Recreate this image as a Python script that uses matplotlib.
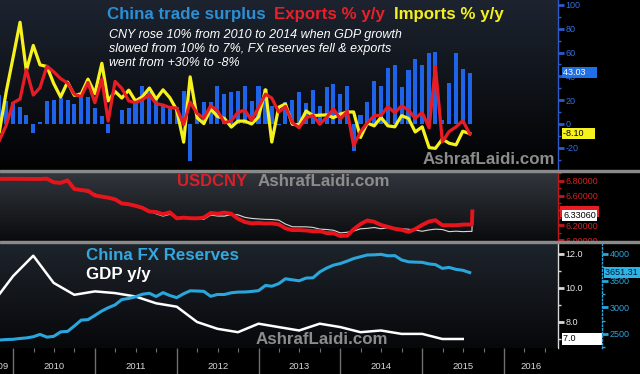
import numpy as np
import pandas as pd
import matplotlib
matplotlib.use("Agg")
import matplotlib.pyplot as plt
from matplotlib import transforms
from matplotlib.colors import to_rgb
from matplotlib.patches import Rectangle
from matplotlib.ticker import MultipleLocator

plt.rcParams['font.family'] = ['Liberation Sans', 'DejaVu Sans']

# ---------------- data ----------------
trade_months = pd.period_range('2009-10', '2015-07', freq='M')
# China trade balance, USD bn
trade_surplus = [24.0, 19.1, 18.4,
                 14.2, 7.6, -7.2, 1.7, 19.5, 20.0, 22.0, 20.0, 16.9, 25.0, 22.9, 13.1,
                 6.5, -7.3, 0.1, 11.4, 13.1, 20.0, 31.5, 27.0, 21.5, 17.0, 15.5, 14.0,
                 27.3, -31.5, 5.4, 18.4, 18.7, 31.7, 25.2, 26.7, 27.7, 32.0, 19.6, 31.6,
                 29.2, 15.3, -0.9, 18.2, 20.4, 27.1, 17.8, 28.5, 15.2, 31.1, 33.8, 25.6,
                 31.9, -23.0, 7.7, 18.5, 35.9, 31.6, 47.3, 49.8, 31.0, 45.4, 54.5, 49.6,
                 60.0, 60.6, 3.1, 34.1, 59.5, 46.5, 43.03]
exports_yoy = [-13.8, -1.2, 17.7,
               21.0, 45.7, 24.3, 30.5, 48.5, 43.9, 38.1, 34.4, 25.1, 22.9, 34.9, 17.9,
               37.7, 2.4, 35.8, 29.9, 19.4, 17.9, 20.4, 24.5, 17.1, 15.9, 13.8, 13.4,
               -0.5, 18.4, 8.9, 4.9, 15.3, 11.3, 1.0, 2.7, 9.9, 11.6, 2.9, 14.1,
               25.0, 21.8, 10.0, 14.7, 1.0, -3.1, 5.1, 7.2, -0.3, 5.6, 12.7, 4.3,
               10.6, -18.1, -6.6, 0.9, 7.0, 7.2, 14.5, 9.4, 15.3, 11.6, 4.7, 9.7,
               -3.3, 48.3, -15.0, -6.4, -2.5, 2.8, -8.3]
imports_yoy = [-6.4, 26.7, 55.9,
               85.5, 44.7, 66.0, 49.7, 48.3, 34.1, 22.7, 35.2, 24.1, 25.3, 37.7, 25.6,
               51.0, 19.4, 27.3, 21.8, 28.4, 19.3, 22.9, 30.2, 20.9, 28.7, 22.1, 11.8,
               -15.3, 39.6, 5.3, 0.3, 12.7, 6.3, 4.7, -2.6, 2.4, 2.4, 0.0, 6.0,
               28.8, -15.2, 14.1, 16.8, -0.3, -0.7, 10.9, 7.0, 7.4, 7.6, 5.3, 8.3,
               10.0, 10.1, -11.3, 0.8, -1.6, 5.5, -1.6, -2.4, 7.0, 4.6, -6.7, -2.4,
               -19.9, -20.5, -12.7, -16.2, -17.6, -6.1, -8.1]
# China FX reserves, USD bn
fx_reserves = [2385, 2395, 2399,
               2415, 2425, 2447, 2491, 2440, 2454, 2538, 2548, 2648, 2760, 2768, 2847,
               2931, 2991, 3045, 3145, 3166, 3197, 3245, 3263, 3202, 3274, 3221, 3181,
               3254, 3309, 3305, 3299, 3206, 3240, 3240, 3272, 3285, 3287, 3297, 3312,
               3410, 3395, 3443, 3535, 3515, 3497, 3548, 3553, 3663, 3736, 3790, 3821,
               3867, 3914, 3948, 3981, 3984, 3993, 3966, 3969, 3888, 3853, 3847, 3843,
               3813, 3801, 3730, 3748, 3711, 3694, 3651.31]

gdp_quarters = pd.period_range('2009Q3', '2015Q2', freq='Q')
gdp_yoy = [9.1, 10.7,
           11.9, 10.3, 9.6, 9.8,
           9.7, 9.5, 9.1, 8.9,
           8.0, 7.6, 7.4, 7.9,
           7.7, 7.5, 7.9, 7.7,
           7.4, 7.5, 7.3, 7.3,
           7.0, 7.0]

usd_extra_days = ['2015-08-10', '2015-08-11', '2015-08-12']
usdcny_spot = [6.8275, 6.8274, 6.8282,
               6.8270, 6.8263, 6.8263, 6.8256, 6.8300, 6.7815, 6.7730, 6.8070, 6.6905, 6.6750, 6.6660, 6.6023,
               6.5870, 6.5728, 6.5500, 6.4950, 6.4845, 6.4635, 6.4350, 6.3850, 6.3790, 6.3490, 6.3750, 6.2940,
               6.3020, 6.2950, 6.2940, 6.3030, 6.3660, 6.3550, 6.3720, 6.3550, 6.2880, 6.2435, 6.2250, 6.2305,
               6.2230, 6.2250, 6.2115, 6.1585, 6.1340, 6.1347, 6.1290, 6.1200, 6.1200, 6.0942, 6.0932, 6.0539,
               6.0600, 6.1450, 6.2160, 6.2650, 6.2470, 6.2040, 6.1786, 6.1520, 6.1385, 6.1100, 6.1480, 6.2040,
               6.2510, 6.2681, 6.1997, 6.2010, 6.2000, 6.2090, 6.2097,
               6.2097, 6.3231, 6.3870]
usdcny_fix = [6.8275, 6.8272, 6.8282,
              6.8270, 6.8269, 6.8263, 6.8263, 6.8275, 6.7909, 6.7750, 6.7900, 6.7011, 6.6670, 6.6497, 6.6227,
              6.5891, 6.5713, 6.5564, 6.4990, 6.4800, 6.4716, 6.4470, 6.3914, 6.3549, 6.3233, 6.3482, 6.3009,
              6.3115, 6.2919, 6.2943, 6.2787, 6.3383, 6.3249, 6.3232, 6.3448, 6.3410, 6.3070, 6.2926, 6.2855,
              6.2795, 6.2779, 6.2689, 6.2163, 6.1796, 6.1787, 6.1788, 6.1709, 6.1480, 6.1425, 6.1325, 6.0969,
              6.1050, 6.1214, 6.1521, 6.1580, 6.1695, 6.1528, 6.1675, 6.1600, 6.1525, 6.1461, 6.1345, 6.1190,
              6.1370, 6.1475, 6.1422, 6.1137, 6.1196, 6.1136, 6.1172,
              6.1162, 6.2298, 6.3306]

years = list(range(2009, 2017))


def dec_year(dates):
    d = pd.DatetimeIndex(dates)
    return (d.year + d.dayofyear / np.where(d.is_leap_year, 366.0, 365.0)).values


t_trade = dec_year(trade_months.to_timestamp(how='end').normalize())
t_gdp = dec_year(gdp_quarters.to_timestamp(how='end').normalize())
t_usd = dec_year(trade_months.to_timestamp(how='end').normalize()
                 .append(pd.DatetimeIndex(usd_extra_days)))

# ---------------- figure ----------------
W, H = 640, 374
XMIN, XMAX = 2009.84, 2016.66
fig = plt.figure(figsize=(W / 100, H / 100), dpi=100, facecolor='black')


def px_axes(x0, y0, x1, y1):
    return fig.add_axes([x0 / W, 1 - y1 / H, (x1 - x0) / W, (y1 - y0) / H])


def gradient(ax, top, bottom):
    g = np.linspace(0, 1, 128)[:, None, None]
    img = np.array(to_rgb(top)) * (1 - g) + np.array(to_rgb(bottom)) * g
    ax.imshow(img, extent=[0, 1, 0, 1], transform=ax.transAxes, aspect='auto', zorder=0)


def style_right(ax, color, spine_color, ticks, fmt, minor):
    ax.set_facecolor('none')
    ax.yaxis.tick_right()
    ax.set_yticks(ticks)
    ax.set_yticklabels([fmt.format(v) for v in ticks])
    ax.yaxis.set_minor_locator(MultipleLocator(minor))
    ax.tick_params(axis='y', which='major', colors=spine_color, labelcolor=color,
                   labelsize=6.5, length=4, width=2, direction='out', pad=1.5)
    ax.tick_params(axis='y', which='minor', colors=spine_color, length=2, width=1)
    ax.tick_params(axis='x', bottom=False, labelbottom=False)
    for s in ['top', 'left', 'bottom']:
        ax.spines[s].set_visible(False)
    ax.spines['right'].set_visible(True)
    ax.spines['right'].set_color(spine_color)
    ax.spines['right'].set_linewidth(1)


def value_box(ax, xa, v, text, fc, tc):
    tr = transforms.blended_transform_factory(ax.transAxes, ax.transData)
    ax.text(xa, v, text, transform=tr, ha='left', va='center', fontsize=6.5, color=tc,
            bbox=dict(boxstyle='square,pad=0.12', fc=fc, ec='none'), clip_on=False, zorder=20)


def hidden_box(ax, v, fc, height):
    # last-value tag that sits mostly behind another one
    tr = transforms.blended_transform_factory(ax.transAxes, ax.transData)
    ax.add_patch(Rectangle((1.004, v - height / 2), 0.07, height, transform=tr,
                           fc=fc, ec='none', clip_on=False, zorder=15))


# ---- top panel: trade ----
ax1 = px_axes(0, 0, 558, 170)
gradient(ax1, '#1d2430', '#020203')
ax1.bar(t_trade, trade_surplus, width=0.05, color='#1f63e8', zorder=2)
ax1.plot(t_trade, imports_yoy, color='#f6f21e', lw=2.3, zorder=3)
ax1.plot(t_trade, exports_yoy, color='#e81c24', lw=2.3, zorder=4)
ax1.set_xlim(XMIN, XMAX)
ax1.set_ylim(-38.7, 104.2)
style_right(ax1, '#2f6fe0', '#2a5bc8', [-20, 0, 20, 40, 60, 80, 100], '{:d}', 10)
value_box(ax1, 1.009, imports_yoy[-1], '-8.10    ', '#f6f21e', 'black')
value_box(ax1, 1.009, trade_surplus[-1], '43.03    ', '#1f6fe8', 'white')

# ---- middle panel: USDCNY ----
ax2 = px_axes(0, 172, 558, 241)
gradient(ax2, '#32363d', '#0a0b0d')
ax2.plot(t_usd, usdcny_fix, color='#d8d8d8', lw=0.8, zorder=3)
ax2.plot(t_usd, usdcny_spot, color='#e8141c', lw=2.8, zorder=4)
ax2.set_xlim(XMIN, XMAX)
ax2.set_ylim(5.987, 6.92)
style_right(ax2, '#d42020', '#c01818', [6.0, 6.2, 6.4, 6.6, 6.8], '{:.5f}', 0.1)
hidden_box(ax2, usdcny_spot[-1], '#e81c24', 0.15)
value_box(ax2, 1.009, usdcny_fix[-1], '{:.5f}'.format(usdcny_fix[-1]), 'white', 'black')

# ---- bottom panel: GDP and FX reserves ----
ax3 = px_axes(0, 243, 558, 348)
gradient(ax3, '#1e242c', '#07080a')
ax3r = ax3.twinx()

ax3.plot(t_gdp, gdp_yoy, color='white', lw=1.8, zorder=3)
ax3.set_xlim(XMIN, XMAX)
ax3.set_ylim(6.47, 12.647)
style_right(ax3, '#e8e8e8', '#d8d8d8', [8, 10, 12], '{:.1f}', 1)
value_box(ax3, 1.009, gdp_yoy[-1], '7.0          ', 'white', 'black')

ax3r.plot(t_trade, fx_reserves, color='#2aa6dc', lw=2.2, zorder=3)
ax3r.set_xlim(XMIN, XMAX)
ax3r.set_ylim(2236, 4206)
style_right(ax3r, '#2aa6dc', '#2aa6dc', [2500, 3000, 3500, 4000], '{:d}', 250)
ax3r.spines['right'].set_position(('axes', 1.079))
ax3r.spines['right'].set_linestyle(':')
value_box(ax3r, 1.084, fx_reserves[-1], '{:.2f}  '.format(fx_reserves[-1]), '#2ab4e8', '#0a1830')

# ---- time axis ----
axx = px_axes(0, 348, 558, 374)
axx.set_facecolor('black')
axx.set_xlim(XMIN, XMAX)
axx.set_ylim(0, 1)
axx.set_xticks([])
axx.set_yticks([])
for s in axx.spines.values():
    s.set_visible(False)
axx.vlines(years[1:], 0, 1, color='#707070', lw=1)
quarters = [y + q / 4 for y in years for q in (1, 2, 3)]
axx.vlines(quarters, 0.84, 1, color='#707070', lw=0.8)
for y in years:
    lo, hi = max(y, XMIN), min(y + 1, XMAX)
    if y == years[0]:
        axx.text(lo + 9 / 82, 0.3, str(y), ha='right', va='center', fontsize=6.8, color='#d8d8d8')
    else:
        axx.text((lo + hi) / 2, 0.3, str(y), ha='center', va='center', fontsize=6.8, color='#d8d8d8')

# panel separators
for ysep in (170, 241):
    fig.add_artist(Rectangle((0, 1 - (ysep + 2) / H), 1, 2 / H, transform=fig.transFigure,
                             color='#8a8a8a', zorder=5))


# ---- titles and notes ----
def ftext(x, y, s, **kw):
    fig.text(x / W, 1 - y / H, s, va='center', ha='left', zorder=10, **kw)


ftext(107, 15, 'China trade surplus', color='#2b8fd6', fontsize=12.2, weight='bold')
ftext(274, 15, 'Exports % y/y', color='#e8202a', fontsize=12.2, weight='bold')
ftext(394, 15, 'Imports % y/y', color='#f4f020', fontsize=12.2, weight='bold')
fig.text(109 / W, 1 - 29 / H,
         'CNY rose 10% from 2010 to 2014 when GDP growth\n'
         'slowed from 10% to 7%, FX reserves fell & exports\n'
         'went from +30% to -8%',
         va='top', ha='left', color='white', fontsize=9, style='italic',
         linespacing=1.2, zorder=10)
ftext(423, 160, 'AshrafLaidi.com', color='#8c8c8c', fontsize=12.2, weight='bold')
ftext(177, 182, 'USDCNY', color='#d8202a', fontsize=12, weight='bold')
ftext(258, 182, 'AshrafLaidi.com', color='#8c8c8c', fontsize=12.2, weight='bold')
ftext(86, 255, 'China FX Reserves', color='#33a8de', fontsize=12.2, weight='bold')
ftext(86, 274, 'GDP y/y', color='white', fontsize=12.2, weight='bold')
ftext(256, 340, 'AshrafLaidi.com', color='#8c8c8c', fontsize=12.2, weight='bold')

fig.savefig('out.png', dpi=100, facecolor='black')
